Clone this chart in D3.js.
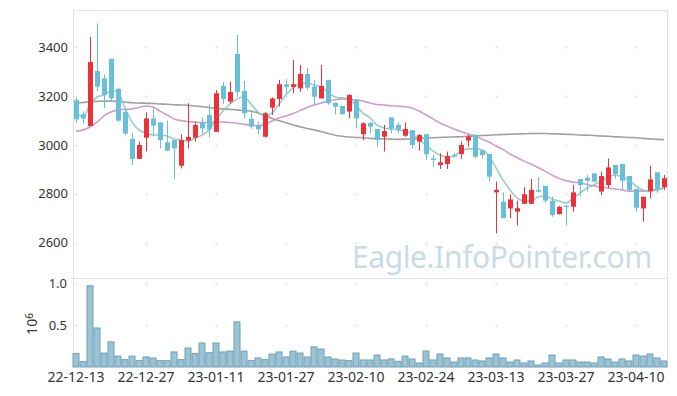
<!DOCTYPE html>
<html>
<head>
<meta charset="utf-8">
<script src="https://cdn.jsdelivr.net/npm/d3@7"></script>
<style>
  body { margin: 0; background: #fff; }
  svg text { font-family: "Noto Sans", sans-serif; fill: #333; }
</style>
</head>
<body>
<div id="chart"></div>
<script>
// trading days shown (YY-MM-DD)
var dates = ["22-12-13","22-12-14","22-12-15","22-12-16","22-12-19","22-12-20","22-12-21","22-12-22","22-12-23","22-12-26",
  "22-12-27","22-12-28","22-12-29","23-01-02","23-01-03","23-01-04","23-01-05","23-01-06","23-01-09","23-01-10",
  "23-01-11","23-01-12","23-01-13","23-01-16","23-01-17","23-01-18","23-01-19","23-01-20","23-01-25","23-01-26",
  "23-01-27","23-01-30","23-01-31","23-02-01","23-02-02","23-02-03","23-02-06","23-02-07","23-02-08","23-02-09",
  "23-02-10","23-02-13","23-02-14","23-02-15","23-02-16","23-02-17","23-02-20","23-02-21","23-02-22","23-02-23",
  "23-02-24","23-02-27","23-02-28","23-03-02","23-03-03","23-03-06","23-03-07","23-03-08","23-03-09","23-03-10",
  "23-03-13","23-03-14","23-03-15","23-03-16","23-03-17","23-03-20","23-03-21","23-03-22","23-03-23","23-03-24",
  "23-03-27","23-03-28","23-03-29","23-03-30","23-03-31","23-04-03","23-04-04","23-04-05","23-04-06","23-04-07",
  "23-04-10","23-04-11","23-04-12","23-04-13","23-04-14"];

var open = [3184,3126,3078,3303,3273,3353,3230,3135,3025,2943, 3030,3109,3093,3011,3020,2915,3018,3030,3093,3123,
  3054,3242,3178,3373,3221,3107,3082,3034,3153,3189, 3249,3238,3232,3291,3239,3191,3267,3173,3160,3137,
  3185,3044,3091,3066,3034,3113,3082,3038,3061,3014, 3044,2945,2918,2922,2960,2963,3018,3041,2977,2963,
  2806,2768,2740,2727,2759,2759,2816,2832,2772,2717, 2752,2747,2861,2866,2884,2809,2836,2918,2922,2873,
  2820,2740,2811,2888,2827];
var high = [3195,3137,3443,3499,3290,3353,3235,3145,3048,3014, 3134,3160,3093,3100,3020,3044,3171,3095,3112,3167,
  3225,3258,3260,3451,3262,3134,3096,3135,3195,3267, 3270,3349,3328,3317,3267,3328,3267,3175,3160,3208,
  3185,3093,3093,3066,3082,3113,3093,3093,3061,3044, 3044,2959,2966,2973,2966,3014,3041,3044,2980,2963,
  2850,2806,2798,2772,2827,2861,2870,2832,2788,2749, 2752,2836,2861,2877,2884,2891,2945,2918,2922,2873,
  2820,2788,2915,2888,2877];
var low = [3090,3089,3078,3221,3150,3176,3095,3040,2918,2943, 2973,3036,2986,2975,2859,2904,2986,3014,3048,3030,
  3054,3168,3168,3198,3109,3066,3044,3030,3123,3157, 3212,3212,3218,3225,3161,3191,3165,3126,3125,3109,
  3068,3020,3048,2993,2973,3048,3048,3034,2986,2977, 2939,2911,2902,2902,2948,2943,2993,2946,2945,2850,
  2638,2700,2700,2670,2759,2759,2806,2764,2706,2715, 2670,2727,2791,2809,2846,2795,2823,2861,2816,2809,
  2727,2686,2781,2804,2816];
var close = [3105,3108,3340,3239,3205,3191,3100,3047,2943,3000, 3109,3079,3020,2977,2986,3020,3033,3082,3068,3064,
  3212,3189,3217,3218,3130,3075,3064,3130,3191,3249, 3238,3249,3291,3235,3198,3242,3171,3157,3126,3205,
  3109,3089,3075,3020,3057,3068,3064,3066,3000,3041, 2962,2940,2929,2955,2953,3000,3034,2952,2959,2870,
  2816,2700,2777,2741,2798,2816,2809,2772,2713,2747, 2748,2806,2836,2854,2850,2873,2908,2881,2854,2816,
  2743,2788,2859,2820,2864];
// volume, millions
var volume = [0.16,0.064,0.97,0.466,0.167,0.30,0.13,0.088,0.13,0.076, 0.12,0.108,0.076,0.076,0.18,0.088,0.227,0.16,0.287,0.171,
  0.287,0.18,0.19,0.54,0.19,0.076,0.108,0.088,0.155,0.18, 0.12,0.19,0.167,0.12,0.24,0.215,0.12,0.096,0.084,0.076,
  0.167,0.084,0.084,0.143,0.084,0.096,0.068,0.131,0.096,0.048, 0.191,0.084,0.155,0.108,0.06,0.108,0.108,0.084,0.072,0.108,
  0.155,0.108,0.06,0.084,0.048,0.072,0.024,0.048,0.143,0.048, 0.084,0.084,0.06,0.06,0.048,0.12,0.096,0.06,0.096,0.072,
  0.143,0.131,0.155,0.108,0.072];
// moving averages
var ma5 = [3139,3115,3168,3197,3205,3221,3217,3152,3094,3062, 3049,3041,3041,3037,3025,3021,3016,3029,3041,3062,
  3103,3139,3168,3189,3197,3168,3135,3119,3131,3168, 3205,3234,3250,3254,3246,3238,3217,3197,3193,3189,
  3160,3131,3111,3082,3070,3066,3062,3057,3045,3021, 3000,2975,2959,2951,2955,2975,2984,2984,2980,2955,
  2906,2857,2816,2783,2770,2770,2787,2791,2779,2770, 2762,2783,2803,2824,2836,2852,2869,2877,2869,2857,
  2832,2816,2811,2816,2824];
var ma20 = [3057,3062,3074,3094,3119,3135,3144,3146,3148,3154, 3160,3156,3139,3123,3107,3100,3096,3094,3092,3092,
  3093,3094,3092,3089,3085,3081,3079,3085,3098,3111, 3119,3129,3141,3154,3164,3172,3180,3185,3189,3187,
  3185,3180,3172,3166,3164,3161,3159,3157,3152,3139, 3123,3107,3090,3078,3066,3055,3045,3037,3025,3012,
  2996,2982,2963,2949,2934,2922,2908,2893,2877,2863, 2854,2848,2844,2838,2832,2828,2824,2820,2816,2811,
  2811,2811,2813,2818,2824];
var ma60 = [3171,3174,3178,3179,3180,3180,3178,3176,3173,3172, 3171,3170,3168,3167,3165,3164,3163,3160,3157,3154,
  3150,3148,3146,3144,3141,3139,3131,3121,3109,3100, 3091,3082,3075,3068,3062,3055,3047,3040,3036,3033,
  3031,3030,3027,3026,3025,3024,3023,3024,3025,3027, 3029,3030,3031,3032,3033,3034,3036,3037,3039,3040,
  3042,3043,3044,3045,3046,3047,3047,3047,3046,3045, 3044,3043,3041,3040,3039,3037,3036,3034,3033,3031,
  3030,3027,3025,3023,3022];
var priceTicks = [2600, 2800, 3000, 3200, 3400];
var volTicks = [0.5, 1.0];
var dateTicks = dates.filter(function(d, i) { return i % 10 === 0; });

var width = 677, height = 396;
var left = 73, right = 667,
    priceTop = 10, priceBottom = 278,
    volTop = 278, volBottom = 367;

var svg = d3.select("#chart").append("svg")
    .attr("width", width)
    .attr("height", height)
    .style("display", "block");

var x = d3.scaleBand().domain(dates).range([left - 0.5, right + 0.5]);
var cx = function(d) { return x(d) + x.bandwidth() / 2; };

var y = d3.scaleLinear().domain([2454.9, 3553.3]).range([priceBottom, priceTop]);
var yv = d3.scaleLinear().domain([0, 1.063]).range([volBottom, volTop]);

// frame lines
var frame = svg.append("g").attr("stroke", "#e3e3e3").attr("stroke-width", 1);
frame.append("line").attr("x1", left).attr("x2", right).attr("y1", priceTop + 0.5).attr("y2", priceTop + 0.5);
frame.append("line").attr("x1", left - 2).attr("x2", right).attr("y1", priceBottom + 0.5).attr("y2", priceBottom + 0.5);
frame.append("line").attr("x1", left + 0.5).attr("x2", left + 0.5).attr("y1", priceTop).attr("y2", volBottom);
frame.append("line").attr("x1", right + 0.5).attr("x2", right + 0.5).attr("y1", priceTop).attr("y2", volBottom);

// grid crosses
function crosses(yTicks, yScale) {
  var g = svg.append("g").attr("stroke", "#ebebeb").attr("stroke-width", 1);
  dateTicks.forEach(function(dt) {
    yTicks.forEach(function(t) {
      var px = Math.round(cx(dt)) + 0.5, py = Math.round(yScale(t)) + 0.5;
      g.append("line").attr("x1", px - 2).attr("x2", px + 2).attr("y1", py).attr("y2", py);
      g.append("line").attr("x1", px).attr("x2", px).attr("y1", py - 2).attr("y2", py + 2);
    });
  });
}
crosses(priceTicks, y);
crosses(volTicks, yv);

// watermark
svg.append("text")
    .attr("x", 652).attr("y", 268)
    .attr("text-anchor", "end")
    .style("font-size", "30px")
    .style("letter-spacing", "-0.4px")
    .style("fill", "#c9dce6")
    .text("Eagle.InfoPointer.com");

// axes
var yAxis = d3.axisLeft(y).tickValues(priceTicks).tickFormat(d3.format("d")).tickSize(0).tickPadding(5);
svg.append("g").attr("transform", "translate(" + left + ",0)").call(yAxis)
    .call(function(g) { g.select(".domain").remove(); })
    .selectAll("text").style("font-size", "13px").attr("fill", "#333");

var vAxis = d3.axisLeft(yv).tickValues(volTicks).tickFormat(d3.format(".1f")).tickSize(0).tickPadding(6);
svg.append("g").attr("transform", "translate(" + left + ",0)").call(vAxis)
    .call(function(g) { g.select(".domain").remove(); })
    .selectAll("text").style("font-size", "13px").attr("fill", "#333");

var xAxis = d3.axisBottom(x).tickValues(dateTicks).tickSize(0).tickPadding(5);
svg.append("g").attr("transform", "translate(0," + volBottom + ")").call(xAxis)
    .call(function(g) { g.select(".domain").remove(); })
    .selectAll("text").style("font-size", "14px").attr("fill", "#333");

// volume unit label
var unit = svg.append("text")
    .attr("transform", "translate(37,324) rotate(-90)")
    .attr("text-anchor", "middle")
    .style("font-size", "14px");
unit.append("tspan").text("10");
unit.append("tspan").attr("dy", "-0.45em").style("font-size", "10px").text("6");

// volume bars
svg.append("g").selectAll("rect").data(dates).enter().append("rect")
    .attr("x", function(d) { return x(d) + 0.5; })
    .attr("width", x.bandwidth() - 1)
    .attr("y", function(d, i) { return yv(volume[i]); })
    .attr("height", function(d, i) { return volBottom - yv(volume[i]); })
    .attr("fill", "#9cc3d3")
    .attr("stroke", "#6ea2b8")
    .attr("stroke-width", 1);

// moving average lines
function maLine(values, color) {
  var line = d3.line()
      .x(function(d, i) { return cx(dates[i]); })
      .y(function(d) { return y(d); })
      .curve(d3.curveMonotoneX);
  svg.append("path").datum(values)
      .attr("d", line)
      .attr("fill", "none")
      .attr("stroke", color)
      .attr("stroke-width", 1.6)
      .attr("stroke-opacity", 0.85);
}
maLine(ma60, "#8f8f8f");
maLine(ma20, "#c98ac8");
maLine(ma5, "#86c6bd");

// candles
var candle = svg.append("g").selectAll("g").data(dates).enter().append("g");
candle.append("line")
    .attr("x1", function(d) { return Math.round(cx(d)) + 0.5; })
    .attr("x2", function(d) { return Math.round(cx(d)) + 0.5; })
    .attr("y1", function(d, i) { return y(high[i]); })
    .attr("y2", function(d, i) { return y(low[i]); })
    .attr("stroke", function(d, i) { return close[i] >= open[i] ? "#ee3038" : "#68c0d8"; })
    .attr("stroke-width", 1);
candle.append("rect")
    .attr("x", function(d) { return Math.round(cx(d)) - 2; })
    .attr("width", 5)
    .attr("y", function(d, i) { return y(Math.max(open[i], close[i])); })
    .attr("height", function(d, i) { return Math.max(1.5, Math.abs(y(open[i]) - y(close[i]))); })
    .attr("fill", function(d, i) { return close[i] >= open[i] ? "#ee3038" : "#68c0d8"; });
</script>
</body>
</html>
